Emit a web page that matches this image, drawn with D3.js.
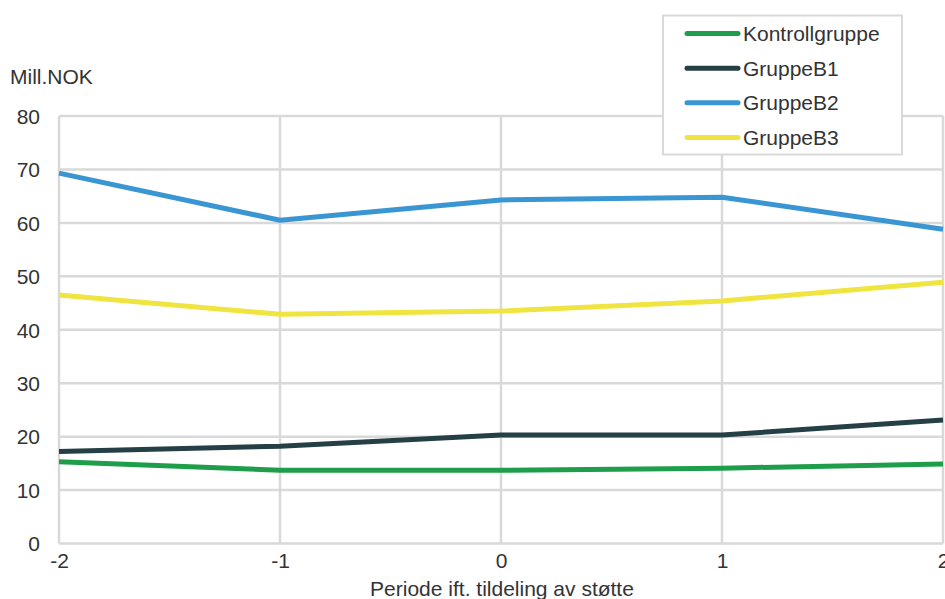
<!DOCTYPE html>
<html>
<head>
<meta charset="utf-8">
<script src="https://cdn.jsdelivr.net/npm/d3@7/dist/d3.min.js"></script>
<style>
  html, body { margin: 0; padding: 0; background: #fff; }
  svg { display: block; font-family: "Liberation Sans", Arial, sans-serif; }
</style>
</head>
<body>
<svg id="chart" width="945" height="599"></svg>
<script>
// Periods relative to the grant
const periods = [-2, -1, 0, 1, 2];
const seriesNames = ["Kontrollgruppe", "GruppeB1", "GruppeB2", "GruppeB3"];
const kontrollgruppe = [15.3, 13.7, 13.7, 14.1, 14.9];
const gruppeB1 = [17.2, 18.2, 20.3, 20.3, 23.1];
const gruppeB2 = [69.3, 60.5, 64.3, 64.8, 58.8];
const gruppeB3 = [46.5, 42.9, 43.5, 45.4, 48.9];
const yTicks = [0, 10, 20, 30, 40, 50, 60, 70, 80];
const colors = ["#1e9e4a", "#243f45", "#3a96d3", "#f0e440"];

const seriesValues = [kontrollgruppe, gruppeB1, gruppeB2, gruppeB3];

const svg = d3.select("#chart");
const plot = { left: 59, right: 943, top: 116, bottom: 543.5 };

const x = d3.scaleLinear().domain([-2, 2]).range([plot.left, plot.right]);
const y = d3.scaleLinear().domain([0, 80]).range([plot.bottom, plot.top]);

const grid = "#d9d9d9";
const textColor = "#333333";
const fontSize = 21;

// Horizontal gridlines
svg.append("g")
  .selectAll("line")
  .data(yTicks)
  .join("line")
  .attr("x1", plot.left).attr("x2", plot.right)
  .attr("y1", d => y(d)).attr("y2", d => y(d))
  .attr("stroke", grid).attr("stroke-width", 2.5);

// Vertical gridlines
svg.append("g")
  .selectAll("line")
  .data(periods)
  .join("line")
  .attr("x1", d => x(d)).attr("x2", d => x(d))
  .attr("y1", plot.top).attr("y2", plot.bottom)
  .attr("stroke", grid).attr("stroke-width", 2.5);

// Y axis labels
const yAxis = d3.axisLeft(y).tickValues(yTicks).tickSize(0).tickPadding(0);
const gy = svg.append("g").attr("transform", `translate(${plot.left - 19},0)`).call(yAxis);
gy.select(".domain").remove();
gy.selectAll("text")
  .attr("font-size", fontSize).attr("fill", textColor)
  .attr("font-family", "Liberation Sans, Arial, sans-serif")
  .attr("dy", "0.35em");

// X axis labels (plain hyphen for negatives)
const xAxis = d3.axisBottom(x).tickValues(periods).tickSize(0).tickPadding(0).tickFormat(d => String(d));
const gx = svg.append("g").attr("transform", `translate(0,${plot.bottom + 9.5})`).call(xAxis);
gx.select(".domain").remove();
gx.selectAll("text")
  .attr("font-size", fontSize).attr("fill", textColor)
  .attr("font-family", "Liberation Sans, Arial, sans-serif")
  .attr("dy", "0.71em");

// Lines
const line = d3.line().x((d, i) => x(periods[i])).y(d => y(d));
svg.append("g")
  .selectAll("path")
  .data(seriesValues)
  .join("path")
  .attr("d", d => line(d))
  .attr("fill", "none")
  .attr("stroke", (d, i) => colors[i])
  .attr("stroke-width", 5)
  .attr("stroke-linejoin", "round");

// Axis titles
svg.append("text")
  .attr("x", 10).attr("y", 84)
  .attr("font-size", fontSize).attr("fill", textColor)
  .text("Mill.NOK");

svg.append("text")
  .attr("x", (plot.left + plot.right) / 2 + 1).attr("y", 596)
  .attr("text-anchor", "middle")
  .attr("font-size", fontSize).attr("fill", textColor)
  .text("Periode ift. tildeling av støtte");

// Legend
const legend = svg.append("g");
legend.append("rect")
  .attr("x", 663).attr("y", 15.5).attr("width", 239).attr("height", 139)
  .attr("fill", "#fff").attr("stroke", grid).attr("stroke-width", 2);
const rowY = d3.scalePoint().domain(seriesNames).range([33.5, 137.5]);
const items = legend.selectAll("g.item")
  .data(seriesNames)
  .join("g").attr("class", "item")
  .attr("transform", d => `translate(0,${rowY(d)})`);
items.append("line")
  .attr("x1", 687).attr("x2", 738)
  .attr("stroke", (d, i) => colors[i])
  .attr("stroke-width", 5).attr("stroke-linecap", "round");
items.append("text")
  .attr("x", 743).attr("dy", "0.35em")
  .attr("font-size", fontSize).attr("fill", textColor)
  .text(d => d);
</script>
</body>
</html>
